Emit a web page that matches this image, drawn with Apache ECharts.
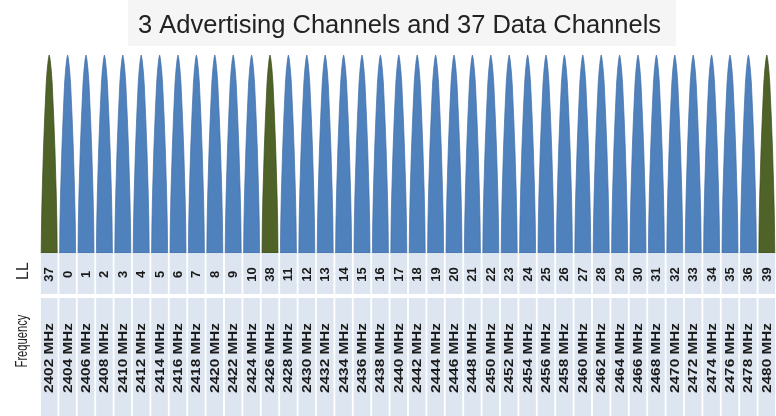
<!DOCTYPE html>
<html>
<head>
<meta charset="utf-8">
<script src="https://cdn.jsdelivr.net/npm/echarts@6/dist/echarts.min.js"></script>
<style>
  html, body { margin: 0; padding: 0; background: #fff; }
  #chart { width: 776px; height: 416px; }
</style>
</head>
<body>
<div id="chart"></div>
<script>
// link layer channel numbers, left to right (37, 38, 39 are advertising)
const llNumbers = [37, 0, 1, 2, 3, 4, 5, 6, 7, 8, 9, 10, 38, 11, 12, 13, 14, 15, 16, 17,
  18, 19, 20, 21, 22, 23, 24, 25, 26, 27, 28, 29, 30, 31, 32, 33, 34, 35, 36, 39];
// centre frequency of each channel in MHz
const frequencies = [2402, 2404, 2406, 2408, 2410, 2412, 2414, 2416, 2418, 2420,
  2422, 2424, 2426, 2428, 2430, 2432, 2434, 2436, 2438, 2440,
  2442, 2444, 2446, 2448, 2450, 2452, 2454, 2456, 2458, 2460,
  2462, 2464, 2466, 2468, 2470, 2472, 2474, 2476, 2478, 2480];
const advertisingChannels = [37, 38, 39];
// relative spike height of each channel
const spikeLevels = [1, 1, 1, 1, 1, 1, 1, 1, 1, 1, 1, 1, 1, 1, 1, 1, 1, 1, 1, 1,
  1, 1, 1, 1, 1, 1, 1, 1, 1, 1, 1, 1, 1, 1, 1, 1, 1, 1, 1, 1];

const BLUE = '#4f81bd', BLUE_EDGE = '#416fa8';
const GREEN = '#4f6228', GREEN_EDGE = '#3c4b1d';
const CELL = '#dde6f0';
const FONT = 'Liberation Sans, Arial, sans-serif';

// spike outline: [depth from tip, half width] as fractions of height / full half width
const spikeProfile = [[0, 0], [0.01, 0.06], [0.025, 0.12], [0.075, 0.25], [0.14, 0.37],
  [0.31, 0.56], [0.48, 0.72], [0.7, 0.88], [0.85, 0.96], [1, 1]];

const gridLeft = 40, gridWidth = 742;
const categories = llNumbers.map(String);

function renderSpike(params, api) {
  const i = api.value(0);
  const tip = api.coord([i, api.value(1)]);
  const base = api.coord([i, 0]);
  const half = 8;
  const h = base[1] - tip[1];
  const right = spikeProfile.map(([d, w]) => [tip[0] + w * half, tip[1] + d * h]);
  const left = spikeProfile.slice().reverse().map(([d, w]) => [tip[0] - w * half, tip[1] + d * h]);
  const adv = advertisingChannels.includes(llNumbers[i]);
  return {
    type: 'polygon',
    shape: { points: right.concat(left) },
    style: {
      fill: adv ? GREEN : BLUE,
      stroke: adv ? GREEN_EDGE : BLUE_EDGE,
      lineWidth: 0.7
    }
  };
}

function cellRenderer(textOf, fontSize, stretch) {
  return function (params, api) {
    const i = api.value(0);
    const top = api.coord([i, 1]);
    const bottom = api.coord([i, 0]);
    const w = api.size([1, 0])[0] - 1.8;
    return {
      type: 'group',
      children: [
        {
          type: 'rect',
          shape: { x: top[0] - w / 2, y: top[1], width: w, height: bottom[1] - top[1] },
          style: { fill: CELL }
        },
        {
          type: 'text',
          x: top[0] + 0.5,
          y: (top[1] + bottom[1]) / 2 + 1,
          rotation: Math.PI / 2,
          scaleX: stretch,
          style: {
            text: textOf(i),
            fontSize: fontSize,
            fontWeight: 'bold',
            fontFamily: FONT,
            fill: '#1a1a1a',
            align: 'center',
            verticalAlign: 'middle'
          }
        }
      ]
    };
  };
}

const chart = echarts.init(document.getElementById('chart'));

const option = {
  animation: false,
  title: {
    text: '3 Advertising Channels and 37 Data Channels',
    left: 128,
    top: 0,
    padding: [13, 15, 7, 10],
    backgroundColor: '#f5f5f5',
    textStyle: {
      fontFamily: FONT,
      fontSize: 25.5,
      fontWeight: 'normal',
      color: '#222'
    }
  },
  grid: [
    { left: gridLeft, width: gridWidth, top: 55, height: 198 },
    { left: gridLeft, width: gridWidth, top: 253, height: 41 },
    { left: gridLeft, width: gridWidth, top: 298, height: 118 }
  ],
  xAxis: [0, 1, 2].map(i => ({
    type: 'category', gridIndex: i, data: categories, show: false
  })),
  yAxis: [0, 1, 2].map(i => ({
    type: 'value', gridIndex: i, min: 0, max: 1, show: false
  })),
  graphic: [
    {
      type: 'text', x: 24, y: 271, rotation: Math.PI / 2,
      style: {
        text: 'LL', fontSize: 16, fontFamily: FONT, fill: '#222',
        align: 'center', verticalAlign: 'middle'
      }
    },
    {
      type: 'text', x: 23, y: 341, rotation: Math.PI / 2, scaleX: 0.7,
      style: {
        text: 'Frequency', fontSize: 16, fontFamily: FONT, fill: '#222',
        align: 'center', verticalAlign: 'middle'
      }
    }
  ],
  series: [
    {
      type: 'custom',
      xAxisIndex: 0, yAxisIndex: 0,
      renderItem: renderSpike,
      data: spikeLevels.map((v, i) => [i, v])
    },
    {
      type: 'custom',
      xAxisIndex: 1, yAxisIndex: 1,
      renderItem: cellRenderer(i => String(llNumbers[i]), 13, 1),
      data: llNumbers.map((n, i) => [i, n])
    },
    {
      type: 'custom',
      xAxisIndex: 2, yAxisIndex: 2,
      renderItem: cellRenderer(i => frequencies[i] + ' MHz', 13, 1.18),
      data: frequencies.map((f, i) => [i, f])
    }
  ]
};

chart.setOption(option);
</script>
</body>
</html>
